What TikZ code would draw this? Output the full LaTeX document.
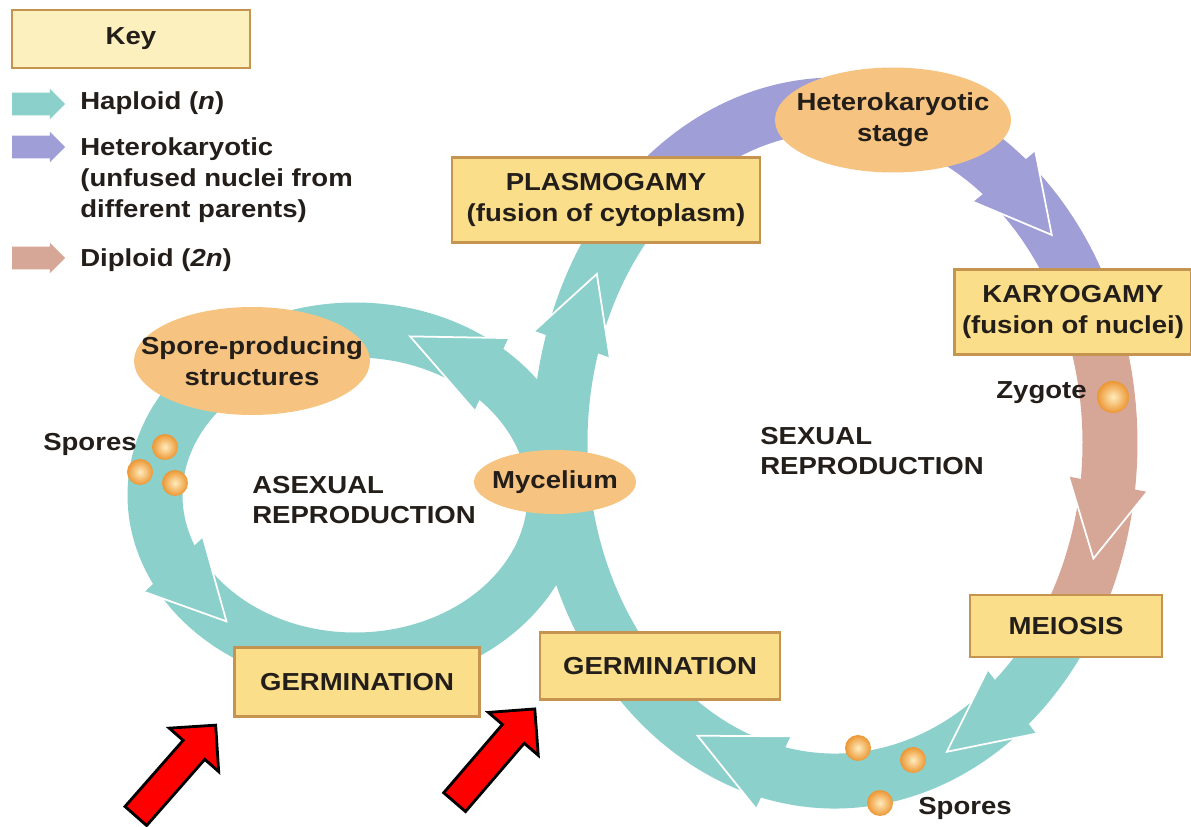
\documentclass[tikz,border=0pt]{standalone}
\usepackage{fontspec}
\setmainfont{Liberation Sans}[FakeStretch=1.12]
\usetikzlibrary{calc}
\usetikzlibrary{positioning}
\usetikzlibrary{shapes.geometric}
\usetikzlibrary{shapes.arrows}
\definecolor{mteal}{RGB}{140,208,204}
\definecolor{mpurple}{RGB}{160,158,214}
\definecolor{mpink}{RGB}{214,166,150}
\definecolor{myellow}{RGB}{250,222,138}
\definecolor{mcream}{RGB}{251,240,190}
\definecolor{mbrown}{RGB}{196,148,80}
\definecolor{mtan}{RGB}{246,196,128}
\definecolor{mspore}{RGB}{236,150,50}
\definecolor{mglow}{RGB}{255,236,190}
\definecolor{mtext}{RGB}{35,30,25}
\tikzset{band/.style = {line width=1.1cm}}
\tikzset{stagebox/.style = {draw=mbrown, fill=myellow, line width=1.2pt,
                            align=center, inner sep=0pt}}
\tikzset{stageoval/.style = {ellipse, fill=mtan, align=center, inner ysep=0pt}}
\tikzset{note/.style = {inner sep=0pt, align=left}}
\tikzset{spore/.style = {circle, inner color=mglow, outer color=mspore,
                         inner sep=0pt, minimum size=#1},
         spore/.default = 0.52cm}
\tikzset{keyarrow/.style = {single arrow, fill=#1, inner xsep=0pt, inner ysep=0.22cm,
                            minimum height=1.06cm,
                            single arrow head extend=0.08cm}}
\tikzset{redarrow/.style = {single arrow, draw=black, fill=red, line width=1.6pt,
                            inner xsep=0pt, inner ysep=0.26cm,
                            single arrow head extend=0.37cm}}
\newcommand{\bandhead}[5]{%
  \coordinate (hb) at ($(#2)+(#4:#3)$);
  \coordinate (ht) at ($(#2)+(#5:#3)$);
  \fill [#1] ($(hb)!0.8cm!90:(ht)$) -- (ht) -- ($(hb)!0.8cm!-90:(ht)$) -- cycle;
  \draw [white, line width=1pt] ($(hb)!0.8cm!90:(ht)$) -- (ht) -- ($(hb)!0.8cm!-90:(ht)$);
}

\begin{document}
\begin{tikzpicture}[x=0.02cm, y=0.02cm, text=mtext,
                    font=\bfseries\fontsize{14pt}{17.5pt}\selectfont]
      \useasboundingbox (0,0) rectangle (1191,826);
      \coordinate (asxc) at (355,331);
      \coordinate (sexc) at (835,383);
      \draw [band, mteal] (asxc) ellipse [x radius=200, y radius=165];
      \draw [band, mteal] ($(sexc)+(180:275 and 338)$) arc [start angle=180, end angle=133, x radius=275, y radius=338];
      \draw [band, mpurple] ($(sexc)+(133:275 and 338)$) arc [start angle=133, end angle=27, x radius=275, y radius=338];
      \draw [band, mpink] ($(sexc)+(27:275 and 338)$) arc [start angle=27, end angle=-32, x radius=275, y radius=338];
      \draw [band, mteal] ($(sexc)+(-32:275 and 338)$) arc [start angle=-32, end angle=-180, x radius=275, y radius=338];
      \bandhead{mteal}{asxc}{200 and 165}{47}{74}
      \bandhead{mteal}{asxc}{200 and 165}{205}{230}
      \bandhead{mteal}{sexc}{275 and 338}{163}{150}
      \bandhead{mpurple}{sexc}{275 and 338}{52}{38}
      \bandhead{mpink}{sexc}{275 and 338}{-7}{-20}
      \bandhead{mteal}{sexc}{275 and 338}{-50}{-66}
      \bandhead{mteal}{sexc}{275 and 338}{-103}{-120}

      \node [stagebox, fill=mcream, minimum width=4.76cm, minimum height=1.16cm] (key) at (131,787) {Key};
      \node [keyarrow=mteal] (haparrow) at (33,722) {};
      \node [keyarrow=mpurple] (hetarrow) at (33,679) {};
      \node [keyarrow=mpink] (diparrow) at (33,568) {};
      \node [note, anchor=west] (haplabel) at (80,723) {Haploid (\textit{n})};
      \node [note, anchor=west] (hetlabel) at (80,646) {Heterokaryotic\\(unfused nuclei from\\different parents)};
      \node [note, anchor=west] (diplabel) at (80,566) {Diploid (\textit{2n})};

      \node [stagebox, minimum width=6.16cm, minimum height=1.7cm] (plasmogamy) at (606,626) {PLASMOGAMY\\(fusion of cytoplasm)};
      \node [stageoval, inner xsep=-0.26cm, minimum width=4.72cm, minimum height=2.1cm] (hetstage) at (893,706) {Heterokaryotic\\stage};
      \node [stagebox, minimum width=4.74cm, minimum height=1.7cm] (karyogamy) at (1073,514) {KARYOGAMY\\(fusion of nuclei)};
      \node [stagebox, minimum width=3.84cm, minimum height=1.24cm] (meiosis) at (1066,200) {MEIOSIS};
      \node [stagebox, minimum width=4.8cm, minimum height=1.34cm] (germsex) at (660,160) {GERMINATION};
      \node [stagebox, minimum width=4.9cm, minimum height=1.38cm] (germasex) at (357,144) {GERMINATION};
      \node [stageoval, inner xsep=-0.11cm, minimum width=3.08cm, minimum height=1.28cm] (mycelium) at (555,344) {Mycelium};
      \node [stageoval, inner xsep=-0.58cm, minimum width=4.72cm, minimum height=2.16cm] (sporeprod) at (252,465) {Spore-producing\\structures};

      \node [note, anchor=west] (sexlabel) at (760,375) {SEXUAL\\REPRODUCTION};
      \node [note, anchor=west] (asexlabel) at (252,326) {ASEXUAL\\REPRODUCTION};
      \node [note, anchor=east] (zygotelabel) at (1087,433) {Zygote};
      \node [note, anchor=east] (sporeslefta) at (137,382) {Spores};
      \node [note, anchor=west] (sporesbottom) at (918,18) {Spores};

      \node [spore] (spa) at (165,379) {};
      \node [spore] (spb) at (140,354) {};
      \node [spore] (spc) at (175,343) {};
      \node [spore=0.64cm] (zygote) at (1113,429) {};
      \node [spore] (spd) at (858,78) {};
      \node [spore] (spe) at (913,66) {};
      \node [spore] (spf) at (880,23) {};

      \node [redarrow, minimum height=2.42cm, rotate=48.7] (pointa) at (171,50) {};
      \node [redarrow, minimum height=2.46cm, rotate=49.3] (pointb) at (490,65) {};
\end{tikzpicture}
\end{document}
